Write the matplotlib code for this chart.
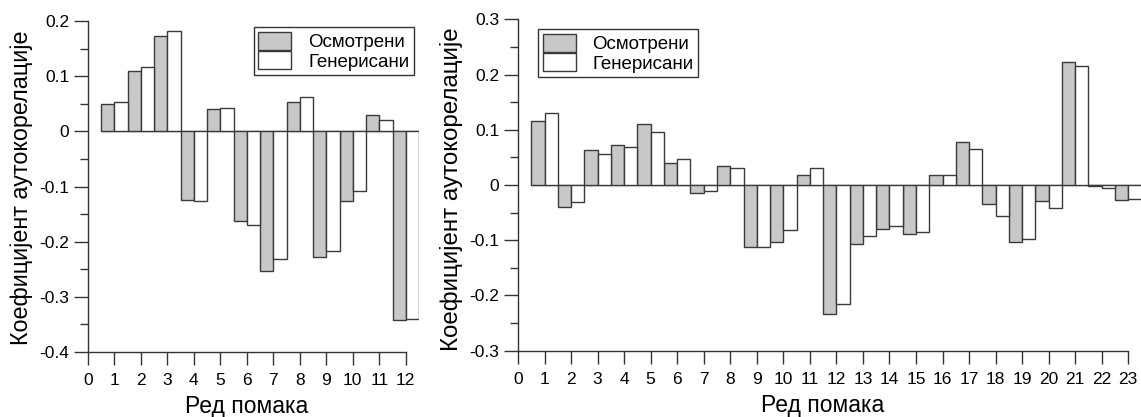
import numpy as np
import matplotlib
matplotlib.use("Agg")
import matplotlib.pyplot as plt
from matplotlib.patches import Patch
from matplotlib.ticker import MultipleLocator, FuncFormatter

plt.rcParams['font.family'] = ['Liberation Sans', 'DejaVu Sans']

labels = ['Осмотрени', 'Генерисани']

lags_a = np.arange(1, 13)
obs_a = [0.050, 0.109, 0.173, -0.125, 0.040, -0.163, -0.253, 0.053, -0.228, -0.127, 0.030, -0.342]
gen_a = [0.053, 0.116, 0.182, -0.127, 0.043, -0.169, -0.231, 0.062, -0.217, -0.109, 0.020, -0.340]

lags_b = np.arange(1, 24)
obs_b = [0.116, -0.040, 0.063, 0.073, 0.110, 0.039, -0.014, 0.035, -0.113, -0.103, 0.019, -0.234,
         -0.106, -0.079, -0.089, 0.019, 0.078, -0.034, -0.104, -0.029, 0.222, -0.002, -0.027]
gen_b = [0.130, -0.030, 0.057, 0.069, 0.096, 0.047, -0.010, 0.031, -0.112, -0.081, 0.031, -0.215,
         -0.093, -0.074, -0.085, 0.019, 0.066, -0.056, -0.098, -0.042, 0.216, -0.005, -0.025]

GRAY = '#c8c8c8'
EDGE = '#3a3a3a'
AXC = '#333333'


def fmt(v, pos):
    if abs(v) < 1e-9:
        return '0'
    return '%.1f' % v


def draw(ax, lags, obs, gen, ylim, nmax, ylab_x, ylab_y, ylab_size):
    ax.bar(lags - 0.25, obs, width=0.5, color=GRAY, edgecolor=EDGE, linewidth=1.0, zorder=2)
    ax.bar(lags + 0.25, gen, width=0.5, color='white', edgecolor=EDGE, linewidth=1.0, zorder=2)
    ax.hlines(0, 0.5, nmax + 0.5, color='#666666', linewidth=1.0, zorder=1)
    ax.set_xlim(0, nmax + 0.5)
    ax.set_ylim(*ylim)
    for s in ['top', 'right']:
        ax.spines[s].set_visible(False)
    for s in ['left', 'bottom']:
        ax.spines[s].set_color(AXC)
        ax.spines[s].set_linewidth(1.0)
    ax.spines['bottom'].set_bounds(0, nmax)
    ax.set_xticks(np.arange(0, nmax + 1))
    ax.yaxis.set_major_locator(MultipleLocator(0.1))
    ax.yaxis.set_minor_locator(MultipleLocator(0.05))
    ax.yaxis.set_major_formatter(FuncFormatter(fmt))
    ax.tick_params(axis='x', direction='out', length=9, width=1.0, color=AXC, labelsize=12.5, pad=6)
    ax.tick_params(axis='y', which='major', direction='out', length=10, width=1.0, color=AXC, labelsize=12.5, pad=3.5)
    ax.tick_params(axis='y', which='minor', direction='out', length=5.8, width=1.0, color=AXC)
    ax.set_xlabel('Ред помака', fontsize=16.5)
    ax.xaxis.set_label_coords((nmax / 2) / (nmax + 0.5), -0.13)
    ax.set_ylabel('Коефицијент аутокорелације', fontsize=ylab_size)
    ax.yaxis.set_label_coords(ylab_x, ylab_y)


fig = plt.figure(figsize=(11.41, 4.17), dpi=100)
ax1 = fig.add_axes([88 / 1141, 65 / 417, 331 / 1141, 331 / 417])
ax2 = fig.add_axes([518 / 1141, 66.3 / 417, 623.5 / 1141, 331.4 / 417])

draw(ax1, lags_a, obs_a, gen_a, (-0.4, 0.2), 12, -0.166, 0.497, 16.8)
draw(ax2, lags_b, obs_b, gen_b, (-0.3, 0.3), 23, -0.088, 0.487, 17.4)

handles = [Patch(facecolor=GRAY, edgecolor=EDGE, linewidth=1.0),
           Patch(facecolor='white', edgecolor=EDGE, linewidth=1.0)]
leg_kw = dict(fontsize=13.5, handlelength=1.76, handleheight=1.12, labelspacing=0,
              handletextpad=0.9, borderpad=0.25, borderaxespad=0, fancybox=False,
              framealpha=1, edgecolor=AXC, bbox_transform=fig.transFigure)
l1 = ax1.legend(handles, labels, loc='upper right', bbox_to_anchor=(414 / 1141, 1 - 27 / 417), **leg_kw)
l2 = ax2.legend(handles, labels, loc='upper left', bbox_to_anchor=(538 / 1141, 1 - 29 / 417), **leg_kw)
for l in (l1, l2):
    l.get_frame().set_linewidth(1.0)

fig.savefig('out.png', dpi=100)
